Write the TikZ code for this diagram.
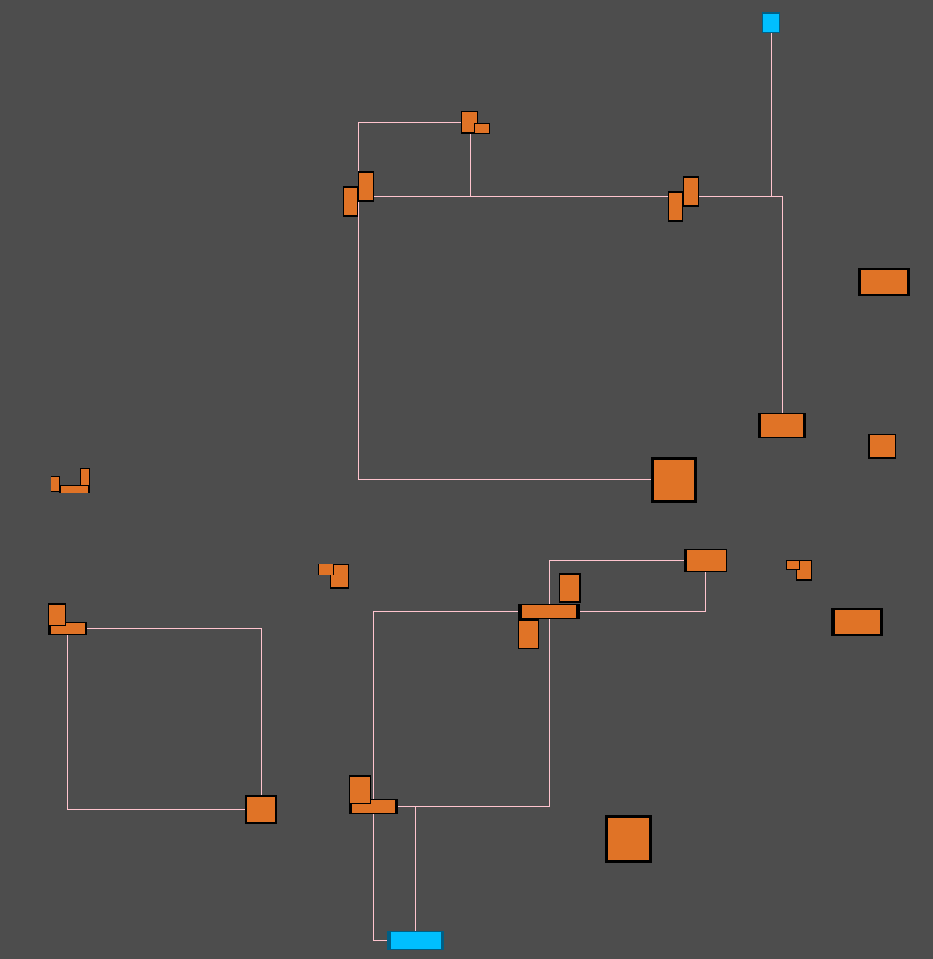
\documentclass[tikz,border=0pt]{standalone}
\pgfdeclarelayer{bg}
\pgfsetlayers{bg,main}
\definecolor{canvas}{HTML}{4D4D4D}
\definecolor{boxorange}{HTML}{E07326}
\definecolor{boxblue}{HTML}{00BFFF}
\definecolor{boxblueedge}{HTML}{005F85}
\definecolor{wire}{HTML}{FFC4CE}
\tikzset{
  cell/.style={inner sep=0pt,outer sep=0pt,draw=none,anchor=center},
  wirepath/.style={draw=wire,line width=1bp,line join=miter},
}
% name, outer x0 y0 x1 y1, inner x0 y0 x1 y1
\newcommand{\boxat}[9]{%
  \pgfmathsetmacro{\oW}{#4-#2}\pgfmathsetmacro{\oH}{#5-#3}%
  \pgfmathsetmacro{\oX}{(#2+#4)/2}\pgfmathsetmacro{\oY}{(#3+#5)/2}%
  \node[cell,fill=black,minimum width=\oW bp,minimum height=\oH bp] (#1) at (\oX,\oY) {};%
  \fill[boxorange] (#6,#7) rectangle (#8,#9);%
}
\newcommand{\blueat}[9]{%
  \pgfmathsetmacro{\oW}{#4-#2}\pgfmathsetmacro{\oH}{#5-#3}%
  \pgfmathsetmacro{\oX}{(#2+#4)/2}\pgfmathsetmacro{\oY}{(#3+#5)/2}%
  \node[cell,fill=boxblueedge,minimum width=\oW bp,minimum height=\oH bp] (#1) at (\oX,\oY) {};%
  \fill[boxblue] (#6,#7) rectangle (#8,#9);%
}
\begin{document}
\begin{tikzpicture}[x=1bp,y=-1bp]
\useasboundingbox (0,0) rectangle (933,959);
\begin{pgfonlayer}{bg}
\fill[canvas] (0,0) rectangle (933,959);
\end{pgfonlayer}

% upper group
\blueat{V}{762}{12}{780}{33}{763}{14}{779}{32}
\boxat{A}{461}{111}{478}{134}{462}{112}{477}{132}
\boxat{B}{474}{123}{490}{134}{475}{124}{489}{133}
\boxat{D}{343}{186}{358}{217}{344}{188}{357}{215}
\boxat{C}{358}{171}{374}{202}{359}{173}{373}{200}
\boxat{S}{668}{191}{683}{222}{669}{193}{682}{220}
\boxat{R}{683}{176}{699}{207}{684}{178}{698}{205}
\boxat{T}{758}{413}{806}{438}{761}{414}{803}{437}
\boxat{W}{651}{457}{697}{503}{654}{460}{694}{500}
\boxat{X}{858}{268}{910}{296}{861}{270}{907}{294}
\boxat{U}{868}{434}{896}{459}{870}{435}{895}{457}

% left group
\boxat{L}{51}{476}{60}{492}{51}{477}{59}{491}
\boxat{M}{80}{468}{90}{486}{81}{469}{89}{486}
\boxat{N}{59}{485}{90}{493}{61}{486}{88}{493}
\boxat{P}{48}{622}{87}{635}{51}{623}{85}{634}
\boxat{O}{48}{603}{66}{626}{49}{605}{65}{625}
\boxat{Q}{245}{795}{277}{824}{247}{797}{275}{822}
\boxat{AC}{330}{564}{349}{589}{331}{565}{348}{587}
\boxat{AB}{318}{564}{334}{575}{319}{564}{333}{575}

% lower group
\boxat{E}{684}{549}{727}{572}{687}{550}{726}{571}
\boxat{F}{559}{573}{581}{603}{560}{575}{579}{601}
\boxat{H}{518}{619}{539}{649}{519}{621}{538}{648}
\boxat{G}{518}{604}{580}{619}{522}{605}{576}{618}
\boxat{J}{349}{799}{398}{814}{352}{800}{395}{813}
\boxat{I}{349}{775}{371}{804}{350}{777}{370}{803}
\blueat{K}{387}{931}{444}{950}{391}{932}{441}{949}
\boxat{AD}{605}{815}{652}{863}{608}{818}{649}{860}

% right group
\boxat{Z}{796}{560}{812}{581}{797}{561}{811}{579}
\boxat{Y}{786}{560}{800}{570}{787}{561}{799}{569}
\boxat{AA}{831}{608}{883}{636}{835}{610}{880}{634}

% junctions
\coordinate (a1) at (358.5,122.5);
\coordinate (a2) at (358.5,479.5);
\coordinate (a3) at (782.5,196.5);
\coordinate (a4) at (358.5,196.5);
\coordinate (a5) at (470.5,196.5);
\coordinate (a6) at (771.5,196.5);
\coordinate (a7) at (470.5,122.5);
\coordinate (b1) at (67.5,628.5);
\coordinate (b2) at (261.5,628.5);
\coordinate (b3) at (67.5,809.5);
\coordinate (c1) at (549.5,560.5);
\coordinate (c2) at (549.5,806.5);
\coordinate (c3) at (373.5,611.5);
\coordinate (c4) at (705.5,611.5);
\coordinate (c5) at (373.5,940.5);
\coordinate (c6) at (415.5,806.5);

\begin{pgfonlayer}{bg}
\draw[wirepath] (A |- a1) -- (a1) -- (a2) -- (W |- a2);
\draw[wirepath] (a7) -- (a5);
\draw[wirepath] (a4) -- (a3) -- (T.center -| a3);
\draw[wirepath] (V.center -| a6) -- (a6);
\draw[wirepath] (P |- b2) -- (b2) -- (Q.center -| b2);
\draw[wirepath] (b1) -- (b3) -- (Q |- b3);
\draw[wirepath] (E |- c1) -- (c1) -- (c2) -- (J |- c2);
\draw[wirepath] (E.center -| c4) -- (c4) -- (c3) -- (c5) -- (K |- c5);
\draw[wirepath] (c6) -- (K.center -| c6);
\end{pgfonlayer}
\end{tikzpicture}
\end{document}
